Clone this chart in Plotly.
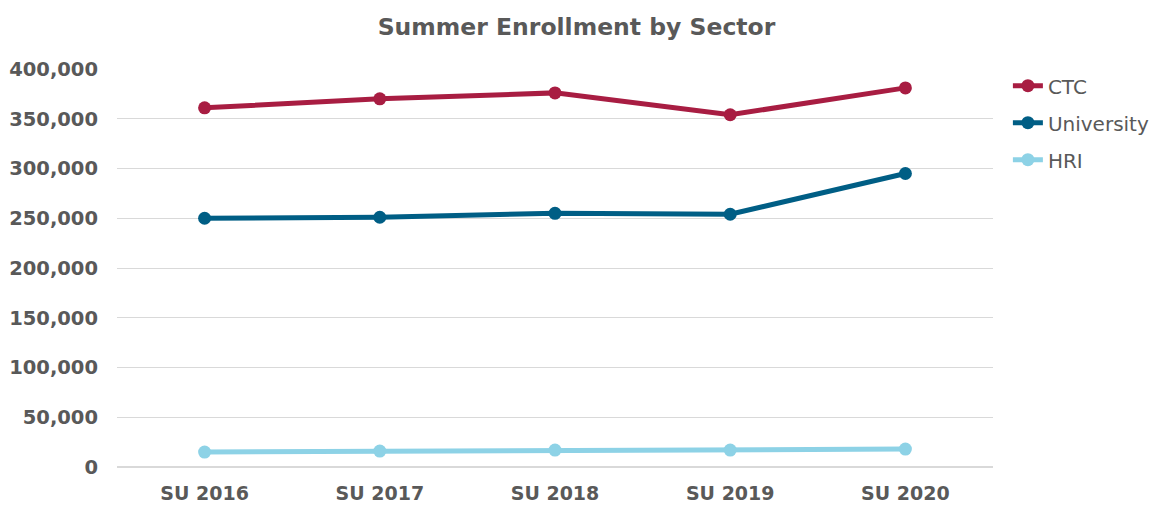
import plotly.graph_objects as go

categories = ["SU 2016", "SU 2017", "SU 2018", "SU 2019", "SU 2020"]
ctc = [361000, 370000, 376000, 354000, 381000]
university = [250000, 251000, 255000, 254000, 295000]
hri = [15000, 16000, 17000, 17000, 18000]

series = [("CTC", ctc, "#A81D42"), ("University", university, "#005E85"), ("HRI", hri, "#8DD2E6")]

fig = go.Figure()
for name, vals, color in series:
    fig.add_trace(go.Scatter(x=categories, y=vals, name=name, legendgroup=name,
                             mode="lines+markers",
                             line=dict(color=color, width=5),
                             marker=dict(color=color, size=13)))

font_fam = "Verdana, DejaVu Sans, sans-serif"
fig.update_layout(
    width=1153, height=506,
    margin=dict(l=117, r=160, t=69, b=39, autoexpand=False),
    paper_bgcolor="white", plot_bgcolor="white",
    title=dict(text="<b>Summer Enrollment by Sector</b>", x=0.5, xanchor="center",
               y=0.947, yanchor="middle",
               font=dict(family=font_fam, size=23.5, color="#595959")),
    font=dict(family=font_fam, color="#595959"),
    xaxis=dict(type="category", range=[-0.5, 4.5], showgrid=False, zeroline=False,
               showline=False, ticks="", ticklabelstandoff=13,
               tickfont=dict(family=font_fam, size=19, color="#595959", weight="bold")),
    yaxis=dict(range=[0, 400000], tickvals=[0, 50000, 100000, 150000, 200000, 250000, 300000, 350000, 400000],
               tickformat=",", showgrid=True, gridcolor="#D9D9D9", gridwidth=1,
               zeroline=True, zerolinecolor="#D9D9D9", zerolinewidth=1.5, ticks="",
               ticklabelstandoff=18,
               tickfont=dict(family=font_fam, size=19.5, color="#595959", weight="bold")),
    legend=dict(x=1.017, y=1.007, xanchor="left", yanchor="top",
                font=dict(family=font_fam, size=20, color="#595959"),
                tracegroupgap=8, itemwidth=30),
    showlegend=True,
)
fig.write_html("out.html")
